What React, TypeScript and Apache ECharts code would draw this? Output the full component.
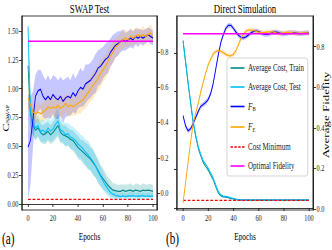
import React, { useEffect, useRef } from 'react';
import * as echarts from 'echarts';

// Canvas: the figure is drawn wide and squeezed horizontally (narrow glyphs as in the reference)
const W = 332;
const H = 250;
const IW = 474;
const S = W / IW;
const X = (outer: number) => outer / S;

const FONT = 'Liberation Serif, serif';
const INK = '#1a1a1a';

const C_TRAIN = '#008b8b';
const C_TEST = '#00bfff';
const C_FB = '#0000ff';
const C_FE = '#ffa500';
const C_MIN = '#ff0000';
const C_OPT = '#ff00ff';

// ---------- data ----------
const EPOCHS = [0, 2, 4, 6, 8, 10, 12, 14, 16, 18, 20, 22, 24, 26, 28, 30, 32, 34, 36, 38, 40, 42, 44, 46, 48, 50,
  52, 54, 56, 58, 60, 62, 64, 66, 68, 70, 72, 74, 76, 78, 80, 82, 84, 86, 88, 90, 92, 94, 96, 98, 100];
const EPOCH_TICKS = [0, 20, 40, 60, 80, 100];
const COST_TICKS_A = [0, 0.25, 0.5, 0.75, 1.0, 1.25, 1.5];
const COST_TICKS_B = [0, 0.2, 0.4, 0.6, 0.8];
const FID_TICKS = [0, 0.2, 0.4, 0.6, 0.8];

const COST_MIN = 0.04;
const OPTIMAL_FIDELITY = 0.863;

// (a) SWAP Test
const A_COST_TRAIN = [1.20, 0.78, 0.68, 0.64, 0.66, 0.62, 0.60, 0.61, 0.63, 0.60, 0.62, 0.65, 0.68, 0.62, 0.60, 0.59,
  0.58, 0.56, 0.55, 0.52, 0.49, 0.47, 0.45, 0.43, 0.41, 0.39, 0.36, 0.33, 0.29, 0.25, 0.22, 0.19, 0.16, 0.14, 0.12,
  0.115, 0.11, 0.11, 0.12, 0.11, 0.115, 0.12, 0.11, 0.12, 0.115, 0.11, 0.12, 0.115, 0.12, 0.115, 0.11];
const A_COST_TRAIN_SPREAD = [0.30, 0.12, 0.09, 0.09, 0.08, 0.08, 0.08, 0.09, 0.08, 0.08, 0.09, 0.09, 0.10, 0.09, 0.08,
  0.09, 0.08, 0.08, 0.09, 0.09, 0.10, 0.09, 0.10, 0.10, 0.11, 0.10, 0.11, 0.10, 0.10, 0.09, 0.09, 0.08, 0.07, 0.07,
  0.06, 0.06, 0.055, 0.06, 0.05, 0.06, 0.055, 0.06, 0.05, 0.055, 0.06, 0.05, 0.06, 0.055, 0.05, 0.06, 0.055];
const A_COST_TEST = [1.54, 0.80, 0.70, 0.66, 0.68, 0.63, 0.64, 0.62, 0.66, 0.63, 0.65, 0.69, 0.72, 0.64, 0.63, 0.60,
  0.61, 0.58, 0.57, 0.55, 0.52, 0.50, 0.48, 0.45, 0.43, 0.40, 0.37, 0.33, 0.28, 0.24, 0.20, 0.16, 0.13, 0.10, 0.085,
  0.075, 0.07, 0.065, 0.07, 0.065, 0.07, 0.068, 0.072, 0.065, 0.07, 0.068, 0.072, 0.066, 0.07, 0.068, 0.07];
const A_COST_TEST_SPREAD = [0.05, 0.12, 0.10, 0.10, 0.09, 0.09, 0.10, 0.09, 0.10, 0.09, 0.10, 0.11, 0.12, 0.10, 0.09,
  0.10, 0.09, 0.10, 0.10, 0.10, 0.11, 0.10, 0.11, 0.11, 0.12, 0.11, 0.11, 0.10, 0.10, 0.09, 0.08, 0.07, 0.06, 0.05,
  0.04, 0.035, 0.03, 0.03, 0.035, 0.03, 0.03, 0.035, 0.03, 0.03, 0.035, 0.03, 0.03, 0.03, 0.035, 0.03, 0.03];
const A_FID_B = [0.26, 0.30, 0.42, 0.55, 0.58, 0.59, 0.55, 0.53, 0.55, 0.53, 0.56, 0.54, 0.53, 0.55, 0.52, 0.54, 0.55,
  0.54, 0.57, 0.55, 0.58, 0.60, 0.59, 0.62, 0.63, 0.64, 0.66, 0.68, 0.71, 0.72, 0.74, 0.76, 0.77, 0.80, 0.82, 0.84,
  0.85, 0.86, 0.87, 0.86, 0.87, 0.88, 0.87, 0.89, 0.88, 0.89, 0.88, 0.89, 0.90, 0.89, 0.88];
const A_FID_B_SPREAD = [0.30, 0.25, 0.16, 0.12, 0.12, 0.11, 0.12, 0.11, 0.12, 0.11, 0.11, 0.12, 0.11, 0.11, 0.12, 0.11,
  0.11, 0.10, 0.11, 0.10, 0.10, 0.11, 0.10, 0.11, 0.10, 0.10, 0.10, 0.11, 0.10, 0.10, 0.09, 0.09, 0.09, 0.08, 0.08,
  0.07, 0.07, 0.06, 0.06, 0.05, 0.05, 0.05, 0.05, 0.045, 0.05, 0.04, 0.045, 0.04, 0.04, 0.045, 0.04];
const A_FID_E = [0.54, 0.50, 0.46, 0.45, 0.46, 0.45, 0.46, 0.47, 0.49, 0.48, 0.49, 0.48, 0.50, 0.48, 0.49, 0.51, 0.49,
  0.50, 0.49, 0.50, 0.51, 0.52, 0.53, 0.55, 0.57, 0.59, 0.61, 0.63, 0.65, 0.68, 0.70, 0.72, 0.75, 0.78, 0.80, 0.83,
  0.84, 0.86, 0.87, 0.88, 0.87, 0.89, 0.88, 0.89, 0.90, 0.89, 0.90, 0.89, 0.90, 0.91, 0.89];
const A_FID_E_SPREAD = [0.07, 0.06, 0.05, 0.05, 0.06, 0.05, 0.05, 0.06, 0.05, 0.06, 0.05, 0.06, 0.05, 0.06, 0.06, 0.05,
  0.06, 0.06, 0.05, 0.06, 0.06, 0.07, 0.06, 0.07, 0.07, 0.07, 0.08, 0.07, 0.07, 0.08, 0.07, 0.07, 0.07, 0.06, 0.06,
  0.06, 0.05, 0.05, 0.05, 0.05, 0.04, 0.05, 0.04, 0.05, 0.04, 0.04, 0.05, 0.04, 0.04, 0.05, 0.04];

// (b) Direct Simulation
const B_COST_TRAIN = [0.86, 0.75, 0.64, 0.54, 0.44, 0.37, 0.31, 0.27, 0.235, 0.215, 0.195, 0.17, 0.145, 0.11, 0.078,
  0.063, 0.058, 0.056, 0.054, 0.048, 0.047, 0.044, 0.042, 0.041, 0.041, 0.041, 0.041, 0.041, 0.041, 0.041, 0.041,
  0.041, 0.041, 0.041, 0.041, 0.041, 0.041, 0.041, 0.041, 0.041, 0.041, 0.041, 0.041, 0.041, 0.041, 0.041, 0.041,
  0.041, 0.041, 0.041, 0.041];
const B_COST_TEST = [0.866, 0.76, 0.65, 0.55, 0.45, 0.38, 0.32, 0.28, 0.245, 0.225, 0.205, 0.18, 0.155, 0.12, 0.085,
  0.068, 0.062, 0.06, 0.058, 0.052, 0.05, 0.046, 0.044, 0.043, 0.042, 0.042, 0.042, 0.042, 0.042, 0.042, 0.042,
  0.042, 0.042, 0.042, 0.042, 0.042, 0.042, 0.042, 0.042, 0.042, 0.042, 0.042, 0.042, 0.042, 0.042, 0.042, 0.042,
  0.042, 0.042, 0.042, 0.042];
const B_FID_B = [0.46, 0.41, 0.385, 0.395, 0.42, 0.45, 0.48, 0.505, 0.515, 0.525, 0.54, 0.57, 0.62, 0.69, 0.76, 0.82,
  0.86, 0.89, 0.905, 0.905, 0.89, 0.872, 0.856, 0.846, 0.843, 0.848, 0.858, 0.868, 0.875, 0.877, 0.874, 0.868, 0.862,
  0.86, 0.862, 0.867, 0.871, 0.872, 0.869, 0.865, 0.863, 0.864, 0.867, 0.869, 0.869, 0.867, 0.865, 0.864, 0.866,
  0.868, 0.867];
const B_FID_E = [0.03, 0.13, 0.23, 0.33, 0.42, 0.47, 0.52, 0.575, 0.625, 0.67, 0.71, 0.74, 0.765, 0.775, 0.78, 0.778,
  0.77, 0.762, 0.756, 0.755, 0.762, 0.78, 0.81, 0.84, 0.862, 0.876, 0.882, 0.882, 0.879, 0.875, 0.871, 0.869, 0.869,
  0.871, 0.873, 0.873, 0.871, 0.868, 0.866, 0.866, 0.868, 0.87, 0.87, 0.869, 0.867, 0.866, 0.866, 0.867, 0.868,
  0.868, 0.867];
const B_FID_SPREAD = 0.012;

// ---------- helpers ----------
const pts = (vals: number[]) => EPOCHS.map((e, i) => [e, vals[i]]);

function line(name: string, xi: number, yi: number, data: number[][], color: string, z: number, extra: any = {}) {
  return {
    type: 'line', name, xAxisIndex: xi, yAxisIndex: yi, data, symbol: 'none', showSymbol: false, silent: true,
    lineStyle: { color, width: 1.25 }, itemStyle: { color }, z, ...extra,
  };
}

// shaded spread (mean ± spread) as one polygon drawn through the axes' scales
function band(xi: number, yi: number, vals: number[], spread: number[], color: string) {
  const data = EPOCHS.map((e, i) => [e, vals[i] - spread[i], vals[i] + spread[i]]);
  return {
    type: 'custom', xAxisIndex: xi, yAxisIndex: yi, silent: true, z: 1, clip: true,
    data, encode: { x: 0, y: [1, 2] },
    renderItem: (params: any, api: any) => {
      if (params.dataIndex !== 0) return null;
      const upper = data.map((d) => api.coord([d[0], d[2]]));
      const lower = data.map((d) => api.coord([d[0], d[1]])).reverse();
      return {
        type: 'polygon',
        shape: { points: upper.concat(lower) },
        style: { fill: color, opacity: 0.22, stroke: 'none' },
      };
    },
  };
}

const tickFont = { fontFamily: FONT, fontSize: 9, color: INK };

function xAxis(gi: number) {
  return {
    type: 'value', gridIndex: gi, min: -4.8, max: 103.2,
    axisLine: { show: true, lineStyle: { color: INK, width: 1 } },
    axisTick: { show: true, length: 3, customValues: EPOCH_TICKS, lineStyle: { color: INK } },
    axisLabel: { ...tickFont, customValues: EPOCH_TICKS, margin: 4, formatter: (v: number) => String(v) },
    splitLine: { show: false },
  };
}

function yAxis(gi: number, position: string, min: number, max: number, ticks: number[], digits: number, showLabel = true) {
  return {
    type: 'value', gridIndex: gi, position, min, max,
    axisLine: { show: true, onZero: false, lineStyle: { color: INK, width: 1.4 } },
    axisTick: { show: true, length: X(3), customValues: ticks, lineStyle: { color: INK } },
    axisLabel: {
      show: showLabel, ...tickFont, customValues: ticks, margin: X(3.5),
      formatter: (v: number) => v.toFixed(digits),
    },
    splitLine: { show: false },
  };
}

function txt(text: string, x: number, y: number, size: number, align = 'center', extra: any = {}) {
  return {
    type: 'text', x, y, silent: true, ...extra,
    style: {
      text, fontFamily: FONT, fontSize: size, fontWeight: 'normal', fill: '#000',
      align, textAlign: align, verticalAlign: 'middle', textVerticalAlign: 'middle',
    },
  };
}

// legend samples: a plain stroke, and a dashed one for the cost minimum
const SOLID_ICON = 'path://M0,0 L20,0 L20,1.6 L0,1.6 Z';
const DASH_ICON = 'path://M0,0 L3.5,0 L3.5,1.6 L0,1.6 Z M5.5,0 L9,0 L9,1.6 L5.5,1.6 Z M11,0 L14.5,0 L14.5,1.6 L11,1.6 Z M16.5,0 L20,0 L20,1.6 L16.5,1.6 Z';

const bSpread = EPOCHS.map(() => B_FID_SPREAD);

const option: any = {
  animation: false,
  backgroundColor: '#ffffff',
  textStyle: { fontFamily: FONT },
  grid: [
    { left: X(22), top: 16, width: X(135), height: 194, show: true, borderColor: INK, borderWidth: 1, backgroundColor: 'transparent' },
    { left: X(177), top: 16, width: X(136), height: 194, show: true, borderColor: INK, borderWidth: 1, backgroundColor: 'transparent' },
  ],
  xAxis: [xAxis(0), xAxis(1)],
  yAxis: [
    yAxis(0, 'left', -0.052, 1.63, COST_TICKS_A, 2),
    yAxis(0, 'right', -0.097, 1.006, FID_TICKS, 1),
    yAxis(1, 'left', -0.01, 0.99, COST_TICKS_B, 1, false),
    yAxis(1, 'right', -0.005, 0.951, FID_TICKS, 1),
  ],
  legend: {
    data: [
      { name: 'Average Cost, Train', icon: SOLID_ICON },
      { name: 'Average Cost, Test', icon: SOLID_ICON },
      { name: 'F_B', icon: SOLID_ICON },
      { name: 'F_E', icon: SOLID_ICON },
      { name: 'Cost Minimum', icon: DASH_ICON },
      { name: 'Optimal Fidelity', icon: SOLID_ICON },
    ],
    orient: 'vertical', left: X(227), top: 58,
    itemWidth: X(14), itemHeight: 10, itemGap: 9, padding: 5,
    itemStyle: { borderWidth: 0 },
    backgroundColor: 'rgba(255,255,255,0.85)', borderColor: '#cccccc', borderWidth: 1, borderRadius: 3,
    selectedMode: false,
    textStyle: {
      fontFamily: FONT, fontSize: 10, color: INK,
      rich: {
        i: { fontFamily: FONT, fontSize: 10.5, fontStyle: 'italic', color: INK },
        s: { fontFamily: FONT, fontSize: 7, color: INK, padding: [5, 0, 0, 0] },
      },
    },
    formatter: (n: string) => (n === 'F_B' ? '{i|F}{s|B}' : n === 'F_E' ? '{i|F}{s|E}' : n),
  },
  graphic: {
    elements: [
      txt('SWAP Test', X(89.5), 8, 12.5),
      txt('Direct Simulation', X(245), 8, 12.5),
      txt('Epochs', X(89.5), 237, 10.5),
      txt('Epochs', X(245), 237, 10.5),
      txt('(a)', X(2), 239, 16, 'left'),
      txt('(b)', X(166), 239, 16, 'left'),
      {
        type: 'text', x: X(6), y: 118, rotation: Math.PI / 2, silent: true,
        style: {
          text: '{c|C}{s|SWAP}', align: 'center', textAlign: 'center', verticalAlign: 'middle', textVerticalAlign: 'middle',
          rich: {
            c: { fontFamily: FONT, fontSize: 13, fill: '#000', color: '#000' },
            s: { fontFamily: FONT, fontSize: 7, fill: '#000', color: '#000', padding: [5, 0, 0, 0] },
          },
        },
      },
      txt('Average Fidelity', X(326), 115, 13, 'center', { rotation: Math.PI / 2 }),
    ],
  },
  series: [
    // panel (a)
    band(0, 0, A_COST_TRAIN, A_COST_TRAIN_SPREAD, C_TRAIN),
    band(0, 0, A_COST_TEST, A_COST_TEST_SPREAD, C_TEST),
    line('Average Cost, Train', 0, 0, pts(A_COST_TRAIN), C_TRAIN, 3),
    line('Average Cost, Test', 0, 0, pts(A_COST_TEST), C_TEST, 3),
    line('Cost Minimum', 0, 0, [[0, COST_MIN], [100, COST_MIN]], C_MIN, 4, { lineStyle: { color: C_MIN, width: 1.3, type: [4, 2.5] } }),
    band(0, 1, A_FID_B, A_FID_B_SPREAD, C_FB),
    band(0, 1, A_FID_E, A_FID_E_SPREAD, C_FE),
    line('F_B', 0, 1, pts(A_FID_B), C_FB, 5),
    line('F_E', 0, 1, pts(A_FID_E), C_FE, 5),
    line('Optimal Fidelity', 0, 1, [[0, OPTIMAL_FIDELITY], [100, OPTIMAL_FIDELITY]], C_OPT, 6, { lineStyle: { color: C_OPT, width: 1.5 } }),
    // panel (b)
    line('Average Cost, Train', 1, 2, pts(B_COST_TRAIN), C_TRAIN, 3),
    line('Average Cost, Test', 1, 2, pts(B_COST_TEST), C_TEST, 3),
    line('Cost Minimum', 1, 2, [[0, COST_MIN], [100, COST_MIN]], C_MIN, 4, { lineStyle: { color: C_MIN, width: 1.3, type: [4, 2.5] } }),
    band(1, 3, B_FID_B, bSpread, C_FB),
    band(1, 3, B_FID_E, bSpread, C_FE),
    line('F_B', 1, 3, pts(B_FID_B), C_FB, 5),
    line('F_E', 1, 3, pts(B_FID_E), C_FE, 5),
    line('Optimal Fidelity', 1, 3, [[0, OPTIMAL_FIDELITY], [100, OPTIMAL_FIDELITY]], C_OPT, 6, { lineStyle: { color: C_OPT, width: 1.5 } }),
  ],
};

export default function App() {
  const ref = useRef<HTMLDivElement>(null);
  useEffect(() => {
    if (!ref.current) return;
    const chart = echarts.init(ref.current, undefined, { renderer: 'svg' });
    chart.setOption(option);
    return () => chart.dispose();
  }, []);
  return (
    <div style={{ position: 'absolute', left: 0, top: 0, width: W, height: H, overflow: 'hidden', background: '#fff' }}>
      <div ref={ref} style={{ width: IW, height: H, transform: `scaleX(${S})`, transformOrigin: '0 0' }} />
    </div>
  );
}
